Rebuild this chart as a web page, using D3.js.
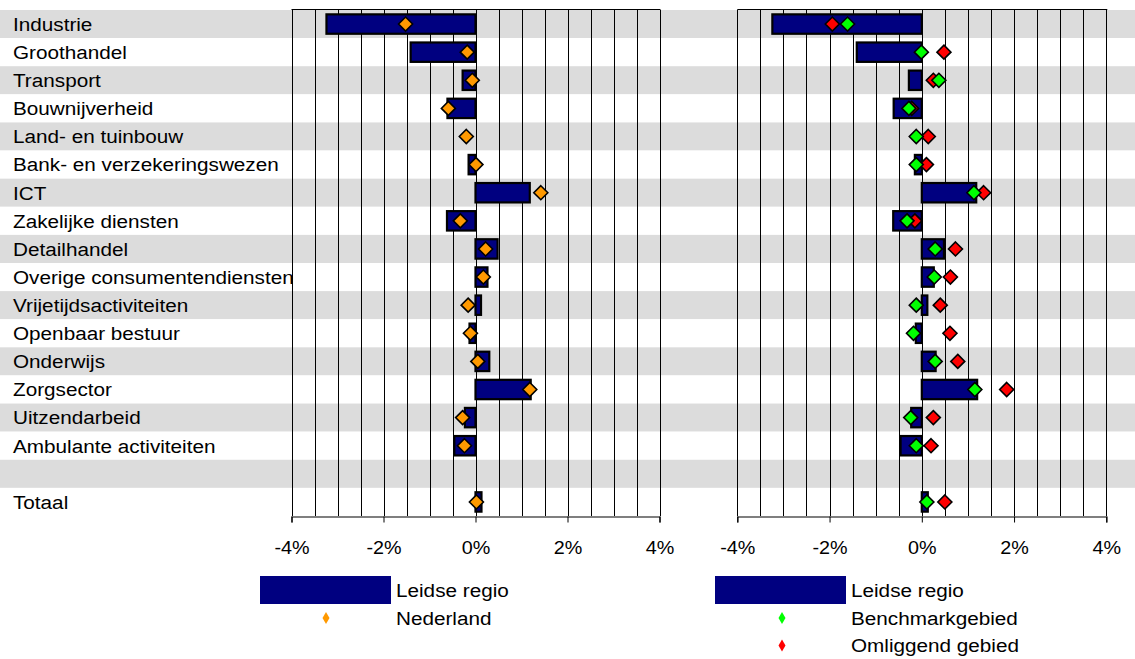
<!DOCTYPE html>
<html><head><meta charset="utf-8">
<script src="https://cdn.jsdelivr.net/npm/d3@7"></script>
<style>body{margin:0;background:#fff}svg{display:block}text{font-family:"Liberation Sans",Arial,sans-serif;fill:#000}</style>
</head><body>
<svg id="c" width="1135" height="659"></svg>
<script>
const categories = ["Industrie","Groothandel","Transport","Bouwnijverheid","Land- en tuinbouw","Bank- en verzekeringswezen","ICT","Zakelijke diensten","Detailhandel","Overige consumentendiensten","Vrijetijdsactiviteiten","Openbaar bestuur","Onderwijs","Zorgsector","Uitzendarbeid","Ambulante activiteiten","","Totaal"];
const leidseRegio = [-3.24,-1.41,-0.28,-0.61,0,-0.15,1.18,-0.62,0.48,0.26,0.12,-0.13,0.30,1.20,-0.23,-0.46,null,0.13];
const nederland   = [-1.52,-0.18,-0.07,-0.59,-0.20,0.01,1.42,-0.33,0.22,0.17,-0.16,-0.11,0.05,1.18,-0.28,-0.24,null,0.02];
const benchmark   = [-1.61,-0.01,0.37,-0.28,-0.12,-0.12,1.13,-0.32,0.29,0.27,-0.12,-0.18,0.29,1.15,-0.24,-0.12,null,0.11];
const omliggend   = [-1.94,0.48,0.25,-0.22,0.14,0.10,1.34,-0.15,0.73,0.62,0.40,0.61,0.78,1.84,0.25,0.20,null,0.50];
const tickValues = [-4,-2,0,2,4];
const gridValues = d3.range(-4,4.01,0.5);

const svg = d3.select("#c");
const W=1135;
const FS=19, SX=1.09;
const y = d3.scaleBand().domain(d3.range(categories.length)).range([10,516]).paddingInner(0).paddingOuter(0);
const bh = y.bandwidth()*0.69;

// bands
svg.append("g").selectAll("rect").data(categories).join("rect")
  .attr("x",0).attr("width",W).attr("y",(d,i)=>y(i)).attr("height",y.bandwidth())
  .attr("fill",(d,i)=>i%2===0?"#dcdcdc":"#fff");

// labels
svg.append("g").selectAll("text").data(categories).join("text")
  .attr("transform",(d,i)=>`translate(13,${y(i)+y.bandwidth()/2+6.8}) scale(${SX},1)`)
  .attr("font-size",FS).text(d=>d);

function diamond(g, data, x, color){
  g.append("g").selectAll("path").data(data.map((v,i)=>({v,i})).filter(d=>d.v!==null)).join("path")
    .attr("d","M0,-7L7,0L0,7L-7,0Z")
    .attr("transform",d=>`translate(${x(d.v)},${y(d.i)+y.bandwidth()/2})`)
    .attr("fill",color).attr("stroke","#000").attr("stroke-width",1.6);
}

function panel(x0,x1,points){
  const x = d3.scaleLinear().domain([-4,4]).range([x0,x1]);
  const g = svg.append("g");
  g.append("g").selectAll("line").data(gridValues).join("line")
    .attr("x1",d=>Math.round(x(d))+0.5).attr("x2",d=>Math.round(x(d))+0.5)
    .attr("y1",10).attr("y2",516).attr("stroke","#000").attr("stroke-width",1);
  g.append("line").attr("x1",x0).attr("x2",x1+1).attr("y1",9.5).attr("y2",9.5).attr("stroke","#000");
  const ax = g.append("g").attr("transform","translate(0,516.5)")
    .call(d3.axisBottom(x).tickValues(tickValues).tickSize(6).tickFormat(d=>d+"%"));
  ax.select(".domain").attr("stroke","#000").attr("stroke-width",1.2);
  ax.selectAll(".tick line").attr("stroke","#000");
  ax.selectAll(".tick text").attr("font-size",FS).attr("font-family","Liberation Sans, Arial, sans-serif")
    .attr("y",0).attr("dy",0).attr("transform",`translate(0,37) scale(1.04,1)`);
  // bars
  g.append("g").selectAll("rect").data(leidseRegio.map((v,i)=>({v,i})).filter(d=>d.v!==null && d.v!==0)).join("rect")
    .attr("x",d=>x(Math.min(0,d.v))).attr("width",d=>Math.abs(x(d.v)-x(0)))
    .attr("y",d=>y(d.i)+(y.bandwidth()-bh)/2).attr("height",bh)
    .attr("fill","#000080").attr("stroke","#000").attr("stroke-width",2.2);
  points.forEach(p=>diamond(g,p.data,x,p.color));
}
panel(291.5,659.5,[{data:nederland,color:"#ff9900"}]);
panel(737.3,1106.3,[{data:omliggend,color:"#ff0000"},{data:benchmark,color:"#00ff00"}]);

// legends
function legend(rx, dx, items){
  const g = svg.append("g");
  g.append("rect").attr("x",rx).attr("y",576).attr("width",131).attr("height",28).attr("fill","#000080");
  g.append("text").attr("transform",`translate(${rx+136},597) scale(${SX},1)`).attr("font-size",FS).text("Leidse regio");
  items.forEach((it,k)=>{
    const cy = 618+k*27.5;
    g.append("path").attr("d","M0,-6L3.5,0L0,6L-3.5,0Z").attr("transform",`translate(${dx},${cy})`).attr("fill",it.color);
    g.append("text").attr("transform",`translate(${rx+136},${cy+6.5}) scale(${SX},1)`).attr("font-size",FS).text(it.label);
  });
}
legend(260,326,[{label:"Nederland",color:"#ff9900"}]);
legend(715,782,[{label:"Benchmarkgebied",color:"#00ff00"},{label:"Omliggend gebied",color:"#ff0000"}]);
</script>
</body></html>
